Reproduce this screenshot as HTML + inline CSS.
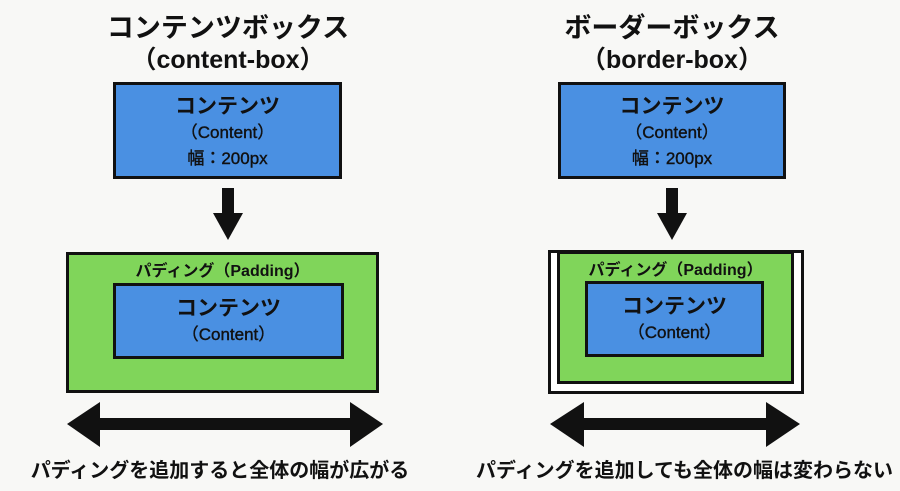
<!DOCTYPE html>
<html><head><meta charset="utf-8"><style>
body{margin:0;width:900px;height:491px;background:#f8f8f6;position:relative;overflow:hidden;font-family:"Liberation Sans","Noto Sans CJK JP",sans-serif;font-weight:bold;color:#111}
.a{position:absolute;box-sizing:border-box}
.t{position:absolute;text-align:center;white-space:nowrap}
.blue{background:#4a90e2;border:3px solid #111}
.green{background:#80d55a;border:3px solid #111}
</style></head><body>
<div class="t" style="left:28px;width:400px;top:6px;font-size:27px">コンテンツボックス</div>
<div class="t" style="left:28px;width:400px;top:40px;font-size:25px">（content-box）</div>
<div class="t" style="left:472px;width:400px;top:6px;font-size:27px">ボーダーボックス</div>
<div class="t" style="left:472px;width:400px;top:40px;font-size:25px">（border-box）</div>

<div class="a blue" style="left:113px;top:82px;width:229px;height:97px"></div>
<div class="t" style="left:113px;width:229px;top:94px;font-size:21px;line-height:25px">コンテンツ<br><span style="font-size:17px;font-weight:normal;-webkit-text-stroke:.4px #111">（Content）<br>幅：200px</span></div>
<div class="a blue" style="left:558px;top:82px;width:228px;height:97px"></div>
<div class="t" style="left:558px;width:228px;top:94px;font-size:21px;line-height:25px">コンテンツ<br><span style="font-size:17px;font-weight:normal;-webkit-text-stroke:.4px #111">（Content）<br>幅：200px</span></div>

<div class="a green" style="left:66px;top:252px;width:313px;height:141px"></div>
<div class="t" style="left:66px;width:313px;top:257px;font-size:16px">パディング（Padding）</div>
<div class="a blue" style="left:113px;top:283px;width:231px;height:76px"></div>
<div class="t" style="left:113px;width:231px;top:296px;font-size:21px;line-height:25px">コンテンツ<br><span style="font-size:17px;font-weight:normal;-webkit-text-stroke:.4px #111">（Content）</span></div>

<div class="a" style="left:548px;top:250px;width:256px;height:144px;background:#fff;border:3px solid #111"></div>
<div class="a green" style="left:557px;top:251px;width:237px;height:133px"></div>
<div class="t" style="left:557px;width:237px;top:256px;font-size:16px">パディング（Padding）</div>
<div class="a blue" style="left:585px;top:281px;width:179px;height:76px"></div>
<div class="t" style="left:585px;width:179px;top:294px;font-size:21px;line-height:25px">コンテンツ<br><span style="font-size:17px;font-weight:normal;-webkit-text-stroke:.4px #111">（Content）</span></div>

<svg class="a" style="left:0;top:0" width="900" height="491">
<g fill="#111">
<rect x="222" y="188" width="12" height="26"/><polygon points="213,213 243,213 228,240"/>
<rect x="666" y="188" width="12" height="26"/><polygon points="657,213 687,213 672,240"/>
<rect x="95" y="418" width="260" height="12"/>
<polygon points="67,424 100,402 100,447"/><polygon points="383,424 350,402 350,447"/>
<rect x="580" y="418" width="192" height="12"/>
<polygon points="550,424 584,402 584,447"/><polygon points="800,424 766,402 766,447"/>
</g></svg>

<div class="t" style="left:20px;width:400px;top:454px;font-size:20px">パディングを追加すると全体の幅が広がる</div>
<div class="t" style="left:476px;width:400px;top:454px;font-size:20px">パディングを追加しても全体の幅は変わらない</div>
</body></html>
